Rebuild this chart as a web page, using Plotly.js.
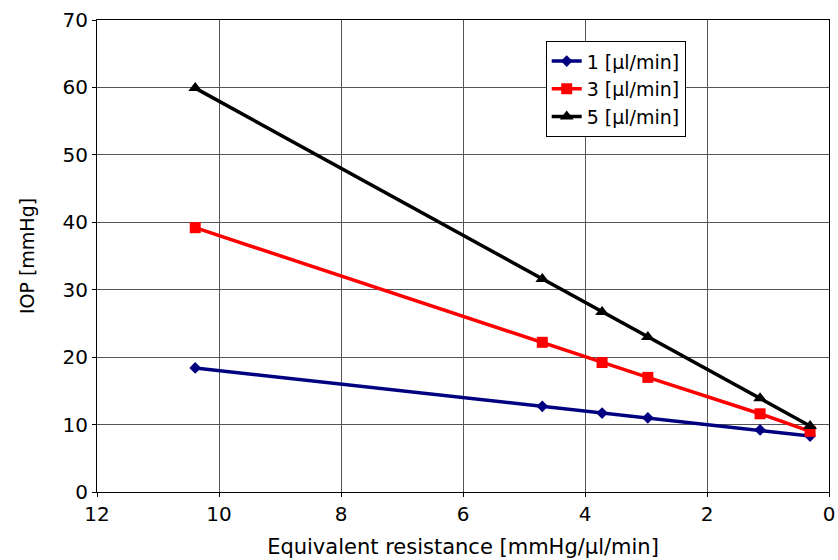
<!DOCTYPE html>
<html><head><meta charset="utf-8">
<script src="https://cdn.plot.ly/plotly-3.0.1.min.js"></script>
<style>html,body{margin:0;padding:0;background:#fff;}#chart{width:838px;height:560px;}</style>
</head><body><div id="chart"></div>
<script>
const resistance = [10.39, 4.70, 3.72, 2.97, 1.13, 0.31];
const iop1 = [18.4, 12.7, 11.7, 11.0, 9.2, 8.3];
const iop3 = [39.2, 22.2, 19.2, 17.0, 11.6, 9.0];
const iop5 = [59.9, 31.6, 26.7, 23.0, 13.9, 9.8];
const seriesNames = ["1 [\u00b5l/min]", "3 [\u00b5l/min]", "5 [\u00b5l/min]"];

const traces = [
  {x: resistance, y: iop1, name: seriesNames[0], mode: "lines+markers",
   line: {color: "#000080", width: 3.5}, marker: {symbol: "diamond", size: 9, color: "#000080"}},
  {x: resistance, y: iop3, name: seriesNames[1], mode: "lines+markers",
   line: {color: "#ff0000", width: 3.5}, marker: {symbol: "square", size: 11, color: "#ff0000"}},
  {x: resistance, y: iop5, name: seriesNames[2], mode: "lines+markers",
   line: {color: "#000000", width: 3.5}, marker: {symbol: "triangle-up", size: 12, color: "#000000"}}
];
const layout = {
  width: 838, height: 560,
  margin: {l: 97, r: 9, t: 20, b: 68},
  paper_bgcolor: "#fff", plot_bgcolor: "#fff",
  font: {family: "DejaVu Sans", color: "#000"},
  showlegend: true,
  legend: {x: 0.613, y: 0.955, xanchor: "left", yanchor: "top",
           bordercolor: "#000", borderwidth: 1, bgcolor: "#fff",
           font: {size: 19, family: "DejaVu Sans"}, tracegroupgap: 0},
  xaxis: {range: [12, 0], dtick: 2, tick0: 0, showgrid: true, gridcolor: "#555", gridwidth: 1,
          showline: true, linecolor: "#000", linewidth: 1, mirror: true, zeroline: false,
          ticks: "outside", ticklen: 4, tickcolor: "#000",
          tickfont: {size: 20}, title: {text: "Equivalent resistance [mmHg/\u00b5l/min]", font: {size: 21}, standoff: 14}},
  yaxis: {range: [0, 70], dtick: 10, showgrid: true, gridcolor: "#555", gridwidth: 1,
          showline: true, linecolor: "#000", linewidth: 1, mirror: true, zeroline: false,
          ticks: "outside", ticklen: 4, tickcolor: "#000",
          tickfont: {size: 20}, title: {text: "IOP [mmHg]", font: {size: 19}, standoff: 22}}
};
Plotly.newPlot("chart", traces, layout, {displayModeBar: false});
</script></body></html>
